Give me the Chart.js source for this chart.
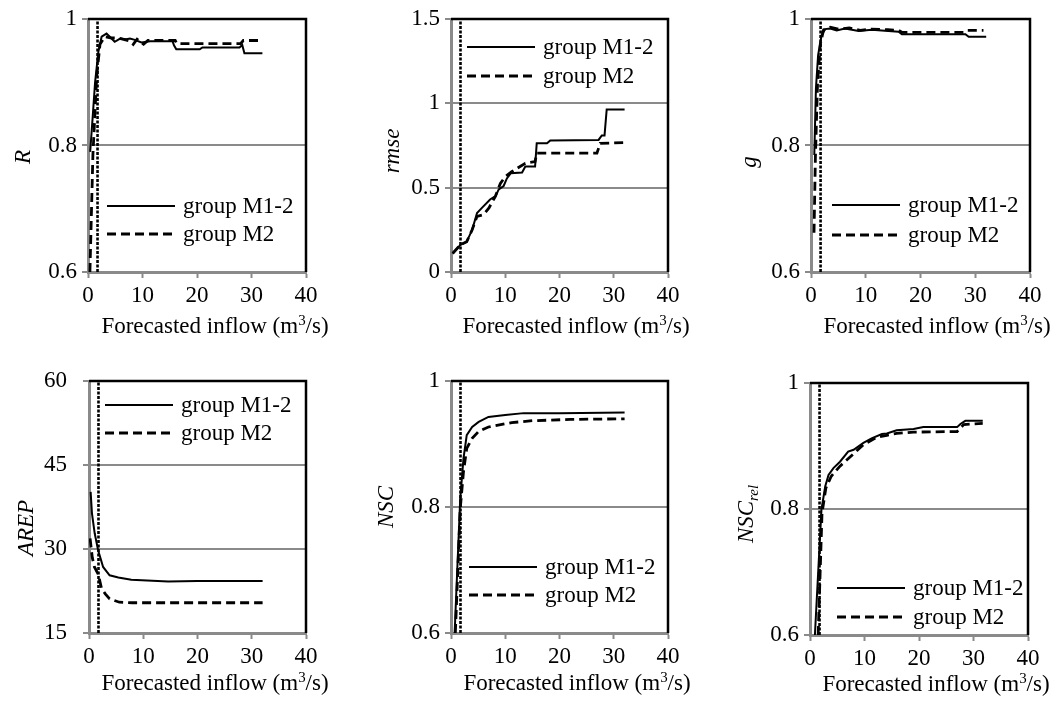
<!DOCTYPE html>
<html>
<head>
<meta charset="utf-8">
<script src="https://cdn.jsdelivr.net/npm/chart.js@4.4.1/dist/chart.umd.min.js"></script>
<style>
  html, body { margin: 0; padding: 0; background: #fff; }
  #wrap { position: relative; width: 1059px; height: 704px; background: #fff; overflow: hidden; }
  #wrap canvas { position: absolute; }
</style>
</head>
<body>
<div id="wrap"></div>
<script>
// Inflow threshold marked by the dotted vertical line (m3/s)
const thresholdInflow = 1.75;

// x axis
const inflowTicks = [0, 10, 20, 30, 40];

// R
const rTicks = [0.6, 0.8, 1];
const rInflowM12 = [0.4, 0.9, 1.3, 1.9, 2.5, 3.4, 4.0, 4.9, 5.9, 7.0, 7.7, 8.6, 9.8, 11.4, 15.5, 15.8, 16.2, 20.5, 21.0, 27.8, 28.3, 28.7, 32.0];
const rM12 = [0.79, 0.85, 0.90, 0.948, 0.972, 0.977, 0.972, 0.964, 0.969, 0.968, 0.969, 0.967, 0.963, 0.965, 0.965, 0.958, 0.952, 0.952, 0.955, 0.955, 0.959, 0.946, 0.946];
const rInflowM2 = [0.35, 0.9, 1.6, 2.2, 3.1, 4.3, 5.5, 7.7, 8.3, 9.0, 10.2, 11.0, 16.0, 16.3, 28.0, 28.5, 32.0];
const rM2 = [0.6, 0.785, 0.91, 0.96, 0.972, 0.97, 0.97, 0.965, 0.96, 0.968, 0.96, 0.966, 0.966, 0.961, 0.961, 0.966, 0.966];

// rmse
const rmseTicks = [0, 0.5, 1, 1.5];
const rmseInflowM12 = [0.3, 1.7, 2.9, 3.9, 4.8, 5.7, 7.2, 8.2, 8.8, 9.7, 10.3, 11.0, 13.1, 13.7, 15.5, 15.8, 17.7, 18.3, 27.2, 27.8, 28.3, 28.7, 32.0];
const rmseM12 = [0.11, 0.16, 0.18, 0.25, 0.35, 0.38, 0.43, 0.45, 0.49, 0.51, 0.555, 0.585, 0.59, 0.625, 0.625, 0.763, 0.763, 0.78, 0.783, 0.81, 0.81, 0.964, 0.964];
const rmseInflowM2 = [0.3, 1.7, 2.9, 3.9, 4.8, 6.0, 7.0, 8.2, 9.1, 10.0, 11.2, 13.7, 15.5, 15.8, 26.9, 27.5, 32.0];
const rmseM2 = [0.11, 0.16, 0.18, 0.25, 0.33, 0.34, 0.38, 0.45, 0.525, 0.565, 0.595, 0.645, 0.655, 0.705, 0.705, 0.763, 0.767];

// g
const gTicks = [0.6, 0.8, 1];
const gInflowM12 = [0.6, 0.9, 1.3, 1.95, 2.6, 3.5, 4.7, 6.2, 8.7, 11.1, 14.1, 16.0, 16.6, 28.2, 28.8, 32.0];
const gM12 = [0.785, 0.89, 0.943, 0.975, 0.984, 0.985, 0.982, 0.985, 0.981, 0.983, 0.981, 0.98, 0.976, 0.976, 0.972, 0.972];
const gInflowM2 = [0.55, 0.8, 1.2, 1.7, 2.3, 3.5, 5.0, 7.0, 9.0, 11.0, 14.0, 16.0, 16.6, 28.0, 28.5, 31.5];
const gM2 = [0.662, 0.78, 0.9, 0.96, 0.983, 0.987, 0.984, 0.986, 0.982, 0.984, 0.983, 0.982, 0.979, 0.979, 0.982, 0.982];

// AREP
const arepTicks = [15, 30, 45, 60];
const arepInflowM12 = [0.3, 0.55, 1.05, 1.67, 2.6, 3.8, 5.4, 7.8, 14.6, 20.0, 32.0];
const arepM12 = [40.2, 36.3, 32.8, 29.8, 26.8, 25.3, 24.9, 24.5, 24.2, 24.3, 24.3];
const arepInflowM2 = [0.2, 0.6, 1.0, 1.7, 2.3, 3.0, 3.8, 5.6, 8.0, 15.0, 32.0];
const arepM2 = [31.9, 28.5, 26.8, 25.5, 23.0, 22.0, 21.1, 20.5, 20.4, 20.4, 20.4];

// NSC
const nscTicks = [0.6, 0.8, 1];
const nscInflowM12 = [0.67, 1.7, 2.3, 2.9, 3.9, 5.1, 6.9, 10.0, 13.4, 20.0, 32.0];
const nscM12 = [0.6, 0.813, 0.877, 0.914, 0.927, 0.935, 0.943, 0.946, 0.949, 0.949, 0.95];
const nscInflowM2 = [0.8, 1.7, 2.3, 2.9, 3.9, 5.1, 6.9, 11.2, 15.0, 22.0, 32.0];
const nscM2 = [0.6, 0.797, 0.856, 0.893, 0.909, 0.92, 0.927, 0.934, 0.937, 0.939, 0.94];

// NSC_rel
const relTicks = [0.6, 0.8, 1];
const relInflowM12 = [0.9, 2.1, 2.8, 3.4, 4.3, 5.5, 7.0, 8.0, 9.8, 11.3, 13.2, 14.1, 15.9, 19.0, 20.8, 27.0, 27.6, 28.5, 31.7];
const relM12 = [0.6, 0.799, 0.836, 0.854, 0.865, 0.875, 0.891, 0.894, 0.905, 0.912, 0.919, 0.92, 0.925, 0.927, 0.93, 0.93, 0.935, 0.94, 0.94];
const relInflowM2 = [1.5, 2.2, 2.9, 3.9, 5.5, 7.4, 9.8, 12.3, 14.1, 15.9, 19.0, 27.0, 28.2, 31.7];
const relM2 = [0.6, 0.793, 0.833, 0.852, 0.868, 0.883, 0.902, 0.914, 0.917, 0.92, 0.922, 0.923, 0.934, 0.936];

const seriesNames = ['group M1-2', 'group M2'];
const xTitleParts = [{ t: 'Forecasted inflow (m' }, { t: '3', sup: true }, { t: '/s)' }];

const FONT = '"Liberation Serif", "Times New Roman", serif';
const GRID = '#8a8a8a';

function toPoints(xs, ys) { return xs.map((x, i) => ({ x: x, y: ys[i] })); }

// Draws rich text (with sub/superscripts) starting at x on a baseline y
function drawParts(ctx, parts, x, y, size, italic) {
  const style = italic ? 'italic ' : '';
  let cx = x;
  parts.forEach(p => {
    const s = (p.sup || p.sub) ? size * 0.65 : size;
    ctx.font = style + s + 'px ' + FONT;
    const dy = p.sup ? -size * 0.36 : (p.sub ? size * 0.2 : 0);
    ctx.fillText(p.t, cx, y + dy);
    cx += ctx.measureText(p.t).width;
  });
  return cx - x;
}
function measureParts(ctx, parts, size, italic) {
  const style = italic ? 'italic ' : '';
  let w = 0;
  parts.forEach(p => {
    const s = (p.sup || p.sub) ? size * 0.65 : size;
    ctx.font = style + s + 'px ' + FONT;
    w += ctx.measureText(p.t).width;
  });
  return w;
}

// Frame, legend and axis titles of one panel
const panelDecor = {
  id: 'panelDecor',
  beforeDatasetsDraw(chart, args, o) {
    const ctx = chart.ctx, a = chart.chartArea;
    ctx.save();
    ctx.strokeStyle = '#000';
    ctx.lineWidth = 2.5;
    ctx.beginPath();
    ctx.moveTo(a.left, a.top);
    ctx.lineTo(a.right, a.top);
    ctx.lineTo(a.right, a.bottom);
    ctx.stroke();
    ctx.restore();
  },
  afterDraw(chart, args, o) {
    const ctx = chart.ctx;
    const ox = o.origin[0], oy = o.origin[1];
    ctx.save();
    ctx.fillStyle = '#000';
    ctx.textBaseline = 'alphabetic';

    // x-axis title
    const size = 23;
    const w = measureParts(ctx, xTitleParts, size, false);
    drawParts(ctx, xTitleParts, o.xTitle[0] - ox - w / 2, o.xTitle[1] - oy, size, false);

    // y-axis title, rotated
    const wy = measureParts(ctx, o.yTitleParts, size, true);
    ctx.save();
    ctx.translate(o.yTitle[0] - ox, o.yTitle[1] - oy);
    ctx.rotate(-Math.PI / 2);
    drawParts(ctx, o.yTitleParts, -wy / 2, 0, size, true);
    ctx.restore();

    // legend
    const lx = o.legend[0] - ox;
    const ly = [o.legend[1] - oy, o.legend[2] - oy];
    const dashes = [[], [9, 5]];
    const widths = [2, 2.8];
    ctx.strokeStyle = '#000';
    ctx.lineCap = 'butt';
    ctx.textBaseline = 'middle';
    ctx.font = size + 'px ' + FONT;
    seriesNames.forEach((name, i) => {
      ctx.lineWidth = widths[i];
      ctx.setLineDash(dashes[i]);
      ctx.beginPath();
      ctx.moveTo(lx, ly[i]);
      ctx.lineTo(lx + 68, ly[i]);
      ctx.stroke();
      ctx.setLineDash([]);
      ctx.fillText(name, lx + 76, ly[i] + 1);
    });
    ctx.restore();
  }
};

const wrap = document.getElementById('wrap');

function makePanel(p) {
  const [cl, ct, cw, ch] = p.canvas;
  const canvas = document.createElement('canvas');
  canvas.width = cw; canvas.height = ch;
  canvas.style.left = cl + 'px'; canvas.style.top = ct + 'px';
  canvas.style.width = cw + 'px'; canvas.style.height = ch + 'px';
  wrap.appendChild(canvas);

  const [L, R, T, B] = p.area;
  const yMin = p.yTicks[0], yMax = p.yTicks[p.yTicks.length - 1];

  new Chart(canvas, {
    type: 'line',
    data: {
      datasets: [
        { label: seriesNames[0], data: toPoints(p.x1, p.y1), borderColor: '#000', borderWidth: 2, pointRadius: 0, tension: 0 },
        { label: seriesNames[1], data: toPoints(p.x2, p.y2), borderColor: '#000', borderWidth: 2.8, borderDash: [9, 5], pointRadius: 0, tension: 0 },
        { label: 'threshold', data: [{ x: thresholdInflow, y: yMin }, { x: thresholdInflow, y: yMax }], borderColor: '#000', borderWidth: 2.6, borderDash: [3, 1.5], pointRadius: 0 }
      ]
    },
    options: {
      responsive: false,
      animation: false,
      devicePixelRatio: 1,
      layout: { padding: { left: 0, top: T - ct, right: cl + cw - R, bottom: ct + ch - B - 40 } },
      plugins: {
        legend: { display: false },
        tooltip: { enabled: false },
        panelDecor: {
          origin: [cl, ct],
          xTitle: p.xTitle,
          yTitle: p.yTitle,
          yTitleParts: p.yTitleParts,
          legend: p.legend
        }
      },
      scales: {
        x: {
          type: 'linear', min: 0, max: 40,
          afterBuildTicks: s => { s.ticks = inflowTicks.map(v => ({ value: v })); },
          afterFit: s => { s.height = 40; },
          grid: { drawOnChartArea: false, drawTicks: true, tickLength: 6, tickWidth: 2, tickColor: GRID, color: GRID },
          border: { display: true, color: GRID, width: 3 },
          ticks: { color: '#000', font: { family: FONT, size: 23 }, padding: 4, maxRotation: 0, autoSkip: false, callback: v => String(v) }
        },
        y: {
          type: 'linear', min: yMin, max: yMax,
          afterBuildTicks: s => { s.ticks = p.yTicks.map(v => ({ value: v })); },
          afterFit: s => { s.width = L - cl; },
          grid: { drawOnChartArea: true, drawTicks: true, tickLength: 6, tickWidth: 2, lineWidth: 2, tickColor: GRID, color: GRID },
          border: { display: true, color: GRID, width: 3 },
          ticks: { color: '#000', font: { family: FONT, size: 23 }, padding: p.yPad, autoSkip: false, callback: v => String(v) }
        }
      }
    },
    plugins: [panelDecor]
  });
}

const panels = [
  { canvas: [0, 0, 352, 345], area: [88, 306, 19, 272], yTicks: rTicks, yPad: 5,
    x1: rInflowM12, y1: rM12, x2: rInflowM2, y2: rM2,
    yTitleParts: [{ t: 'R' }], yTitle: [30, 157], xTitle: [215, 333], legend: [107, 206, 234] },
  { canvas: [352, 0, 354, 345], area: [451, 668, 19, 272], yTicks: rmseTicks, yPad: 5,
    x1: rmseInflowM12, y1: rmseM12, x2: rmseInflowM2, y2: rmseM2,
    yTitleParts: [{ t: 'rmse' }], yTitle: [399, 151], xTitle: [576, 333], legend: [467, 47, 76] },
  { canvas: [706, 0, 353, 345], area: [811, 1030, 19, 272], yTicks: gTicks, yPad: 5,
    x1: gInflowM12, y1: gM12, x2: gInflowM2, y2: gM2,
    yTitleParts: [{ t: 'g' }], yTitle: [756, 162], xTitle: [937, 333], legend: [832, 205, 235] },
  { canvas: [0, 345, 352, 359], area: [89, 306, 381, 633], yTicks: arepTicks, yPad: 16,
    x1: arepInflowM12, y1: arepM12, x2: arepInflowM2, y2: arepM2,
    yTitleParts: [{ t: 'AREP' }], yTitle: [33, 528], xTitle: [215, 690], legend: [105, 405, 433] },
  { canvas: [352, 345, 354, 359], area: [451, 668, 381, 633], yTicks: nscTicks, yPad: 5,
    x1: nscInflowM12, y1: nscM12, x2: nscInflowM2, y2: nscM2,
    yTitleParts: [{ t: 'NSC' }], yTitle: [393, 507], xTitle: [577, 690], legend: [469, 567, 595] },
  { canvas: [706, 345, 353, 359], area: [810, 1028, 383, 635], yTicks: relTicks, yPad: 5,
    x1: relInflowM12, y1: relM12, x2: relInflowM2, y2: relM2,
    yTitleParts: [{ t: 'NSC' }, { t: 'rel', sub: true }], yTitle: [753, 514], xTitle: [936, 691], legend: [837, 588, 617] }
];

panels.forEach(makePanel);
</script>
</body>
</html>
